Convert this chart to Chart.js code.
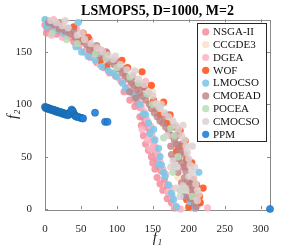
<!DOCTYPE html>
<html>
<head>
<meta charset="utf-8">
<script src="https://cdn.jsdelivr.net/npm/chart.js@4"></script>
<style>
  html, body { margin: 0; padding: 0; background: #fff; }
  #wrap { width: 299px; height: 249px; position: relative; }
</style>
</head>
<body>
<div id="wrap"><canvas id="chart"></canvas></div>
<script>
// ---- data ----
const chartTitle = 'LSMOPS5, D=1000, M=2';
const seriesNames = ['NSGA-II', 'CCGDE3', 'DGEA', 'WOF', 'LMOCSO', 'CMOEAD', 'POCEA', 'CMOCSO', 'PPM'];
const xTicks = [0, 50, 100, 150, 200, 250, 300];
const yTicks = [0, 50, 100, 150];

const nsga2 = [[0,176],[3,172],[6,178],[10,174],[13,170],[18,175],[22,168],[28,166],[35,164],[40,160],[47,156],[55,150],[63,145],[72,140],[82,135],[90,130],[98,127],[106,122],[115,116],[122,111],[128,102],[133,97],[136,88],[139,84],[141,78],[146,74],[150,66],[152,60],[154,54],[156,48],[159,40],[162,36],[166,28],[170,22],[173,14],[176,6],[180,1],[195,40],[185,60],[205,20],
  [2,168],[8,171],[16,167],[25,172],[132,88],[134,80],[137,70],[140,62],[144,56],[148,50],[150,44],[153,38],[156,30],[160,24],[164,18],[170,10],[125,98],[110,112],[118,104]];
const ccgde3 = [[0,181],[25,178],[60,158],[110,136],[150,112],[175,85],[190,0],[205,45],[185,30],[130,120]];
const dgea = [[4,180],[12,181],[20,176],[30,170],[38,166],[50,158],[58,152],[66,148],[85,140],[104,132],[110,126],[120,118],[126,112],[131,106],[134,98],[138,93],[142,85],[147,79],[149,70],[151,63],[153,57],[157,52],[160,45],[164,38],[168,33],[175,20],[177,12],[181,3],[188,0],[205,1],[212,3],[226,1],[200,25],[190,55],[96,141],[140,122],
  [9,166],[24,164],[44,172],[62,162],[78,152],[135,76],[143,66],[146,58],[171,16],[76,138]];
const wof = [[32,172],[49,161],[67,155],[86,149],[107,142],[86,136],[135,131],[137,117],[148,118],[151,104],[165,102],[160,90],[174,90],[188,75],[190,60],[197,47],[204,44],[206,28],[211,23],[220,20],[216,6],[209,1],[197,9],[186,72],[77,142],[53,168],[40,174],[60,164],[115,135],[170,82],[195,65],[210,15],[215,12],[200,2],[183,55]];
const lmocso = [[0,181],[2,174],[8,176],[15,171],[26,168],[33,172],[46,178],[43,155],[51,150],[60,146],[70,142],[79,136],[88,132],[95,130],[100,126],[108,120],[112,115],[118,112],[124,108],[128,107],[132,100],[137,91],[140,90],[144,82],[146,72],[151,76],[153,66],[158,58],[160,50],[158,43],[162,42],[165,35],[167,31],[172,23],[176,15],[179,9],[183,2],[193,12],[202,7],[209,1],[214,35]];
const cmoead = [[5,178],[12,176],[20,172],[28,170],[35,167],[42,164],[50,160],[58,157],[62,152],[68,150],[75,147],[82,145],[90,141],[96,138],[102,134],[108,130],[112,127],[116,124],[120,121],[124,118],[128,114],[132,111],[126,106],[136,108],[140,104],[145,100],[148,96],[152,92],[156,88],[160,84],[164,82],[168,78],[172,74],[176,70],[180,66],[183,62],[186,58],[188,54],[186,48],[190,44],[192,40],[196,36],[194,30],[198,26],[200,22],[204,18],[206,14],[202,10],[208,6],[210,2],[118,112],[138,116],[170,90],[182,78],[175,60],
  [20,178],[40,170],[56,163],[72,156],[85,150],[100,141],[112,134],[122,126],[130,118],[143,110],[155,96],[166,88],[178,78],[184,70],[190,62],[194,52],[198,44],[180,48],[185,35],[190,25],[196,12],[204,26],[176,52]];
const pocea = [[10,168],[30,162],[45,158],[70,148],[85,144],[100,135],[118,126],[130,120],[142,110],[150,100],[158,98],[175,77],[180,70],[185,50],[180,42],[178,35],[195,20],[188,18],[205,12],[165,68]];
const cmocso = [[8,180],[16,178],[24,175],[32,173],[45,166],[55,162],[64,158],[72,154],[80,150],[88,147],[95,143],[105,138],[114,133],[122,128],[130,124],[138,119],[144,112],[150,108],[155,101],[160,96],[166,92],[172,88],[178,84],[182,80],[186,76],[190,70],[194,66],[196,60],[198,54],[200,48],[202,42],[204,36],[207,30],[210,24],[212,18],[214,14],[196,18],[192,22],[188,12],[212,8],[200,31],[178,46],[184,40],
  [28,180],[52,168],[98,146],[125,132],[162,100],[170,70],[192,80],[205,60],[208,40],[182,20],[175,40]];
const ppm = [[0,97.5],[1,96.5],[2,97],[3,96],[4,96.5],[5,95.5],[6,96],[7,95],[8,95.5],[9,95],[10,94.5],[11,95],[12,94],[13,94.5],[14,93.5],[15,94],[16,93],[17,93.5],[18,92.5],[19,93],[20,92.5],[21,92],[22,92.5],[23,91.5],[24,92],[25,91],[26,91.5],[27,90.5],[28,91],[29,90],[30,91],[31,90],[32,89.5],[33,90.5],[34,91],[35,92],[36,93],[37,95],[38,94],[39,93],[40,91],[41,90],[42,89],[43,88.5],[44,88],[46,88],[48,87.5],[50,87],[52,86.5],[53,86.5],[69.6,92],[83.5,83.3],[87,83.3],[313,0]];

const seriesData = [nsga2, ccgde3, dgea, wof, lmocso, cmoead, pocea, cmocso, ppm];
const seriesColors = [
  'rgba(243,140,155,0.85)', // NSGA-II
  'rgba(252,224,200,0.85)', // CCGDE3
  'rgba(250,180,195,0.85)', // DGEA
  'rgba(255,85,30,0.9)',    // WOF
  'rgba(126,200,232,0.9)',  // LMOCSO
  'rgba(190,130,130,0.8)',  // CMOEAD
  'rgba(184,220,184,0.85)', // POCEA
  'rgba(222,208,208,0.85)', // CMOCSO
  'rgba(30,128,224,0.9)'    // PPM
];
const seriesEdges = [0, 0, 0, 0, 0, 0, 0, 0, 0.6];

const FONT = "'Liberation Serif', 'Times New Roman', serif";

// MATLAB-like box with inward ticks on all four sides, title centred on the axes
const boxPlugin = {
  id: 'box',
  beforeDatasetsDraw(chart) {
    const { ctx, chartArea: a, scales } = chart;
    ctx.save();
    ctx.strokeStyle = '#8a8a8a';
    ctx.lineWidth = 1;
    ctx.strokeRect(Math.round(a.left) + 0.5, Math.round(a.top) + 0.5,
      Math.round(a.right - a.left), Math.round(a.bottom - a.top));
    ctx.beginPath();
    xTicks.forEach(v => {
      const px = Math.round(scales.x.getPixelForValue(v)) + 0.5;
      ctx.moveTo(px, a.bottom); ctx.lineTo(px, a.bottom - 3);
      ctx.moveTo(px, a.top); ctx.lineTo(px, a.top + 3);
    });
    yTicks.forEach(v => {
      const py = Math.round(scales.y.getPixelForValue(v)) + 0.5;
      ctx.moveTo(a.left, py); ctx.lineTo(a.left + 3, py);
      ctx.moveTo(a.right, py); ctx.lineTo(a.right - 3, py);
    });
    ctx.stroke();

    ctx.fillStyle = '#000';
    ctx.font = 'bold 14px ' + FONT;
    ctx.textAlign = 'center';
    ctx.textBaseline = 'middle';
    ctx.fillText(chartTitle, (a.left + a.right) / 2, 11);
    ctx.restore();
  }
};

// legend box drawn inside the axes, top right
const legendPlugin = {
  id: 'boxLegend',
  afterDatasetsDraw(chart) {
    const { ctx, chartArea: a } = chart;
    const w = 69, rowH = 12.8;
    const left = a.right - 4 - w, top = a.top + 3.4;
    const h = rowH * seriesNames.length + 3;
    ctx.save();
    ctx.fillStyle = '#fff';
    ctx.fillRect(left, top, w, h);
    ctx.strokeStyle = '#262626';
    ctx.lineWidth = 1;
    ctx.strokeRect(Math.round(left) + 0.5, Math.round(top) + 0.5, Math.round(w), Math.round(h));
    ctx.font = '11px ' + FONT;
    ctx.textBaseline = 'middle';
    seriesNames.forEach((name, i) => {
      const cy = top + 9 + i * rowH;
      ctx.fillStyle = seriesColors[i];
      ctx.beginPath();
      ctx.arc(left + 8.7, cy, 3.6, 0, Math.PI * 2);
      ctx.fill();
      ctx.fillStyle = '#111';
      ctx.fillText(name, left + 16, cy + 0.5);
    });
    ctx.restore();
  }
};

new Chart(document.getElementById('chart'), {
  type: 'scatter',
  data: {
    datasets: seriesNames.map((name, i) => ({
      label: name,
      data: seriesData[i].map(p => ({ x: p[0], y: p[1] })),
      backgroundColor: seriesColors[i],
      borderColor: 'rgba(25,95,140,0.8)',
      borderWidth: seriesEdges[i],
      pointRadius: 3.6,
      pointHoverRadius: 3.6,
      clip: false,
      order: -i // later series drawn on top, as in MATLAB
    }))
  },
  options: {
    responsive: true,
    maintainAspectRatio: false,
    animation: false,
    devicePixelRatio: 1,
    layout: { padding: { left: 0, right: 29, top: 19.5, bottom: 0 } },
    plugins: {
      legend: { display: false },
      tooltip: { enabled: false },
      title: { display: false }
    },
    scales: {
      x: {
        type: 'linear',
        min: 0,
        max: 313,
        afterBuildTicks: s => { s.ticks = xTicks.map(v => ({ value: v })); },
        afterFit: s => { s.height = 40; },
        grid: { display: false },
        border: { display: false },
        ticks: { color: '#262626', font: { family: FONT, size: 11 }, padding: 6, maxRotation: 0 },
        title: { display: true, text: 'f₁', color: '#262626', font: { family: FONT, size: 15, style: 'italic' }, padding: { top: 0, bottom: 2 } }
      },
      y: {
        type: 'linear',
        min: 0,
        max: 181,
        afterBuildTicks: s => { s.ticks = yTicks.map(v => ({ value: v })); },
        afterFit: s => { s.width = 45; },
        grid: { display: false },
        border: { display: false },
        ticks: { color: '#262626', font: { family: FONT, size: 11 }, padding: 5 },
        title: { display: true, text: 'f₂', color: '#262626', font: { family: FONT, size: 15, style: 'italic' }, padding: { top: 4, bottom: 0 } }
      }
    }
  },
  plugins: [boxPlugin, legendPlugin]
});
</script>
</body>
</html>
